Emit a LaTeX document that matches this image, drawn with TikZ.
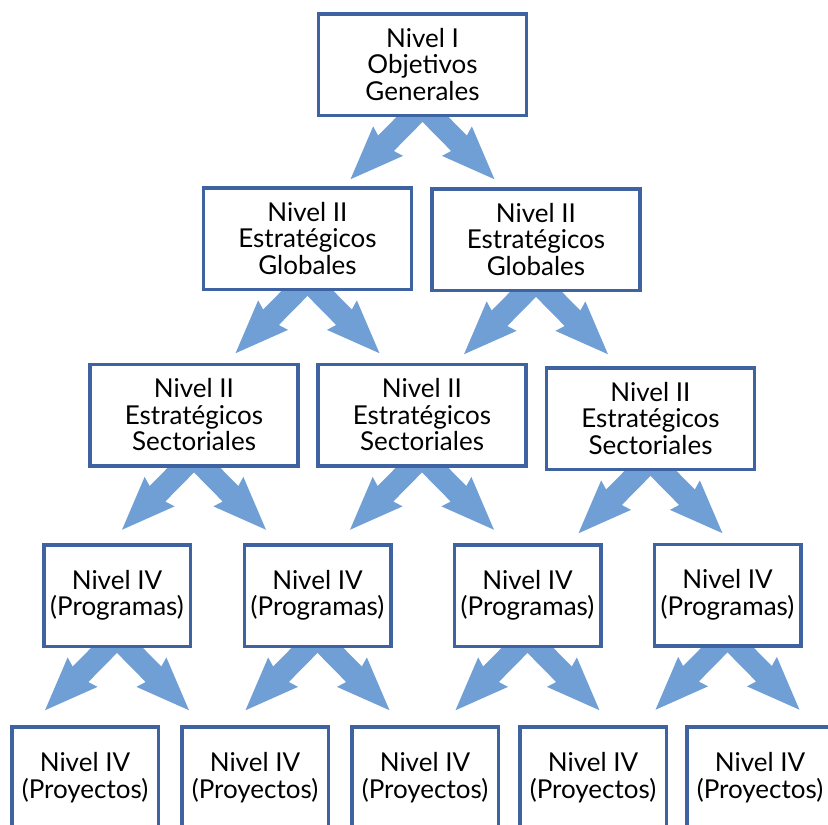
\documentclass[tikz,border=0pt]{standalone}
\usepackage{fontspec}
\setmainfont{Lato}
\usetikzlibrary{calc}

\definecolor{boxline}{HTML}{3F62A0}
\definecolor{arrowblue}{HTML}{6F9FD4}

\pgfdeclarelayer{arrows}
\pgfsetlayers{arrows,main}

% Fat block arrow leaving the bottom of a box: #1 = box name, #2 = direction angle
\newcommand\blkarrow[2]{%
  \fill[arrowblue, shift={($(#1.south)+(0,9)$)}, rotate=#2]
    (0,-11) -- (52,-11) -- (49,-21) -- (102.5,0) -- (49,21) -- (52,11) -- (0,11) -- cycle;}
% Pair of arrows from one box down to the two boxes below it
\newcommand\fork[1]{\blkarrow{#1}{-134.6}\blkarrow{#1}{-45.4}}

\begin{document}
\begin{tikzpicture}[x=1pt,y=1pt,
  lvl/.style={draw=boxline, line width=3.5pt, fill=white, outer sep=0pt,
    inner sep=0pt, align=center, font=\fontsize{26}{26.5}\selectfont},
  wide/.style={lvl, minimum width=208pt, minimum height=101.5pt},
  narrow/.style={lvl, minimum width=146.5pt, minimum height=101.5pt}]
\useasboundingbox (0,0) rectangle (828,-825);
\clip (0,0) rectangle (828,-825);

\node[wide] (n1) at (422.5,-64.5) {Nivel I\\Objetivos\\Generales};

\node[wide] (g1) at (307.5,-238.5) {Nivel II\\Estratégicos\\Globales};
\node[wide] (g2) at (536,-239.5) {Nivel II\\Estratégicos\\Globales};

\node[wide] (s1) at (194,-415) {Nivel II\\Estratégicos\\Sectoriales};
\node[wide] (s2) at (422,-415) {Nivel II\\Estratégicos\\Sectoriales};
\node[wide] (s3) at (650.5,-418.5) {Nivel II\\Estratégicos\\Sectoriales};

\node[narrow] (p1) at (117,-595.5) {Nivel IV\\(Programas)};
\node[narrow] (p2) at (317.5,-595.5) {Nivel IV\\(Programas)};
\node[narrow] (p3) at (527.5,-595.5) {Nivel IV\\(Programas)};
\node[narrow] (p4) at (727.5,-595) {Nivel IV\\(Programas)};

\node[narrow] (q1) at (85,-777.5) {Nivel IV\\(Proyectos)};
\node[narrow] (q2) at (255,-777.5) {Nivel IV\\(Proyectos)};
\node[narrow] (q3) at (425,-777.5) {Nivel IV\\(Proyectos)};
\node[narrow] (q4) at (593,-777.5) {Nivel IV\\(Proyectos)};
\node[narrow] (q5) at (760,-777.5) {Nivel IV\\(Proyectos)};

% arrows sit behind the boxes, so their roots are hidden
\begin{pgfonlayer}{arrows}
\fork{n1}
\fork{g1}\fork{g2}
\fork{s1}\fork{s2}\fork{s3}
\fork{p1}\fork{p2}\fork{p3}\fork{p4}
\end{pgfonlayer}
\end{tikzpicture}
\end{document}
